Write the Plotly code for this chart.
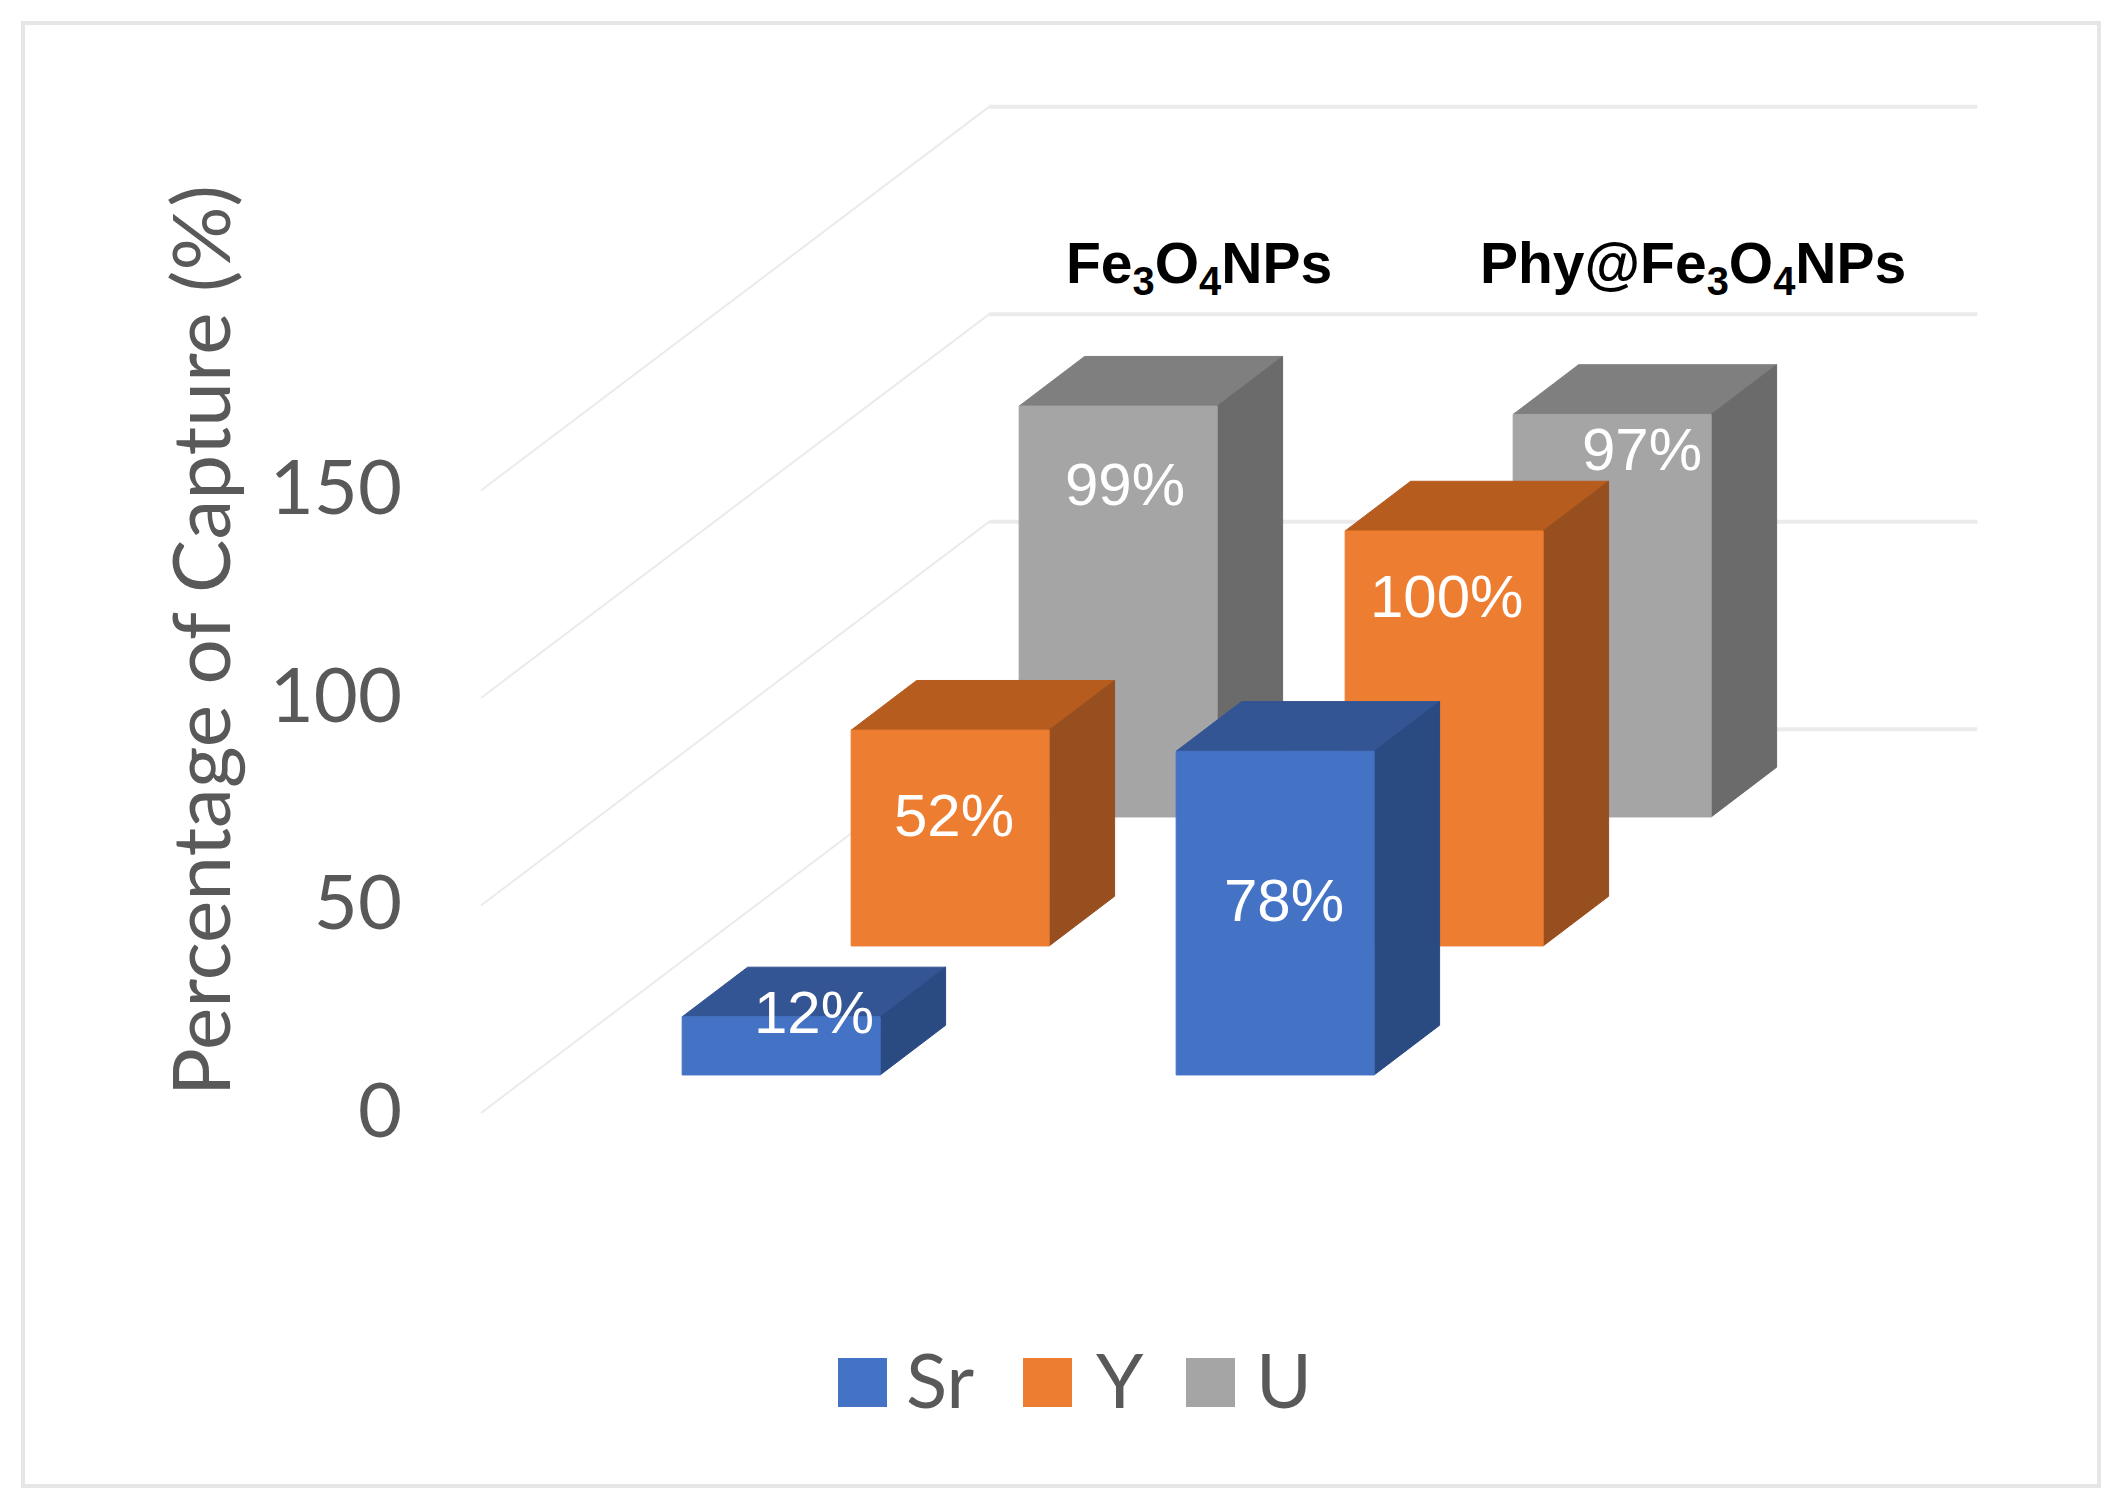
import plotly.graph_objects as go

#-------------------------------------------------------------------------------
#Values
categories = ["Fe<sub>3</sub>O<sub>4</sub>NPs", "Phy@Fe<sub>3</sub>O<sub>4</sub>NPs"]
series_names = ["Sr", "Y", "U"]
sr_values = [14, 78]
y_values = [52, 100]
u_values = [99, 97]
sr_labels = ["12%", "78%"]
y_labels = ["52%", "100%"]
u_labels = ["99%", "97%"]
tick_values = [0, 50, 100, 150]
axis_title = "Percentage of Capture (%)"

#-------------------------------------------------------------------------------
#Oblique projection: x axis is in category widths, y axis in percent
PAGE = 8         # the browser's default body margin
W, H = 2117 - PAGE, 1506 - PAGE
CAT_PX = 494
PCT_PX = 4.15
X0_PX = 728 - PAGE      # figure x of category 0 centre on the front plane
Y0_PX = 1113 - PAGE     # figure y of value 0 on the front plane
DEPTH_X = 170 / CAT_PX
DEPTH_Y = 129 / PCT_PX
WALL_DEPTH = 2.99
WALL_DROP = 0.45
BAR_W = 198 / CAT_PX
BAR_D = 0.385

def px(x):
    return (x - PAGE) / W

def py(y):
    return 1 - (y - PAGE) / H

def proj(x, depth, v):
    return x + depth * DEPTH_X, v + depth * DEPTH_Y

def poly(fig, pts, color):
    xs = [p[0] for p in pts] + [pts[0][0]]
    ys = [p[1] for p in pts] + [pts[0][1]]
    fig.add_trace(go.Scatter(x=xs, y=ys, mode="lines", fill="toself", fillcolor=color,
                             line=dict(color=color, width=1), hoverinfo="skip", showlegend=False))

def bar(fig, cat, depth, value, colors):
    x0, x1 = cat - BAR_W / 2, cat + BAR_W / 2
    d1 = depth + BAR_D
    front = [proj(x0, depth, 0), proj(x1, depth, 0), proj(x1, depth, value), proj(x0, depth, value)]
    top = [proj(x0, depth, value), proj(x1, depth, value), proj(x1, d1, value), proj(x0, d1, value)]
    side = [proj(x1, depth, 0), proj(x1, d1, 0), proj(x1, d1, value), proj(x1, depth, value)]
    poly(fig, top, colors[1])
    poly(fig, side, colors[2])
    poly(fig, front, colors[0])

fig = go.Figure()

#-------------------------------------------------------------------------------
#Floor and wall gridlines
for v in tick_values:
    a = proj(-0.5, 0, v)
    b = proj(-0.5, WALL_DEPTH, v - WALL_DROP)
    c = proj(1.5, WALL_DEPTH, v - WALL_DROP)
    fig.add_trace(go.Scatter(x=[a[0], b[0]], y=[a[1], b[1]], mode="lines", hoverinfo="skip",
                             line=dict(color="#EBEBEB", width=2), showlegend=False))
    fig.add_trace(go.Scatter(x=[b[0], c[0]], y=[b[1], c[1]], mode="lines", hoverinfo="skip",
                             line=dict(color="#EBEBEB", width=4), showlegend=False))

#-------------------------------------------------------------------------------
#Bars, back row first. (front, top, side) shades, row nudge, label offsets
series = [
    (u_values, u_labels, 2.295, ("#A5A5A5", "#7F7F7F", "#6B6B6B"), 0, [(7, 78), (30, 35)]),
    (y_values, y_labels, 1.295, ("#ED7D31", "#B55C1E", "#974F1F"), 2, [(6, 85), (4, 66)]),
    (sr_values, sr_labels, 0.295, ("#4472C4", "#335593", "#2A4A82"), 3, [(36, -4), (12, 149)]),
]
annots = []
for values, labels, depth, colors, nudge, offsets in series:
    for i, v in enumerate(values):
        bar(fig, i + nudge / CAT_PX, depth, v, colors)
        x, y = proj(i, depth, v)
        annots.append(dict(x=x, y=y, xref="x", yref="y", text=labels[i], showarrow=False,
                           xanchor="center", yanchor="middle",
                           xshift=offsets[i][0], yshift=-offsets[i][1],
                           font=dict(family="Liberation Sans", size=60, color="#FFFFFF")))

#-------------------------------------------------------------------------------
#Category names sit on the back wall
for i, name in enumerate(categories):
    x, _ = proj(i, WALL_DEPTH, 0)
    annots.append(dict(x=x, y=py(267), xref="x", yref="paper", text="<b>" + name + "</b>",
                       showarrow=False, xanchor="center", yanchor="middle", xshift=-37,
                       font=dict(family="Liberation Sans", size=57, color="#000000")))

annots.append(dict(x=px(199), y=py(641), xref="paper", yref="paper", text=axis_title, textangle=-90,
                   showarrow=False, xanchor="center", yanchor="middle",
                   font=dict(family="Lato", size=80, color="#595959")))

#-------------------------------------------------------------------------------
#Legend drawn by hand, the built in one caps marker size
shapes = [dict(type="rect", xref="paper", yref="paper", x0=px(23), x1=px(2099), y0=py(1486), y1=py(23),
               line=dict(color="#E6E6E6", width=4), fillcolor="rgba(0,0,0,0)", layer="below")]
legend_left = [838, 1023, 1186]
legend_text = [904, 1094, 1254]
legend_colors = ["#4472C4", "#ED7D31", "#A5A5A5"]
for name, left, tx, color in zip(series_names, legend_left, legend_text, legend_colors):
    shapes.append(dict(type="rect", xref="paper", yref="paper", x0=px(left), x1=px(left + 49),
                       y0=py(1407), y1=py(1358), fillcolor=color, line=dict(width=0)))
    annots.append(dict(x=px(tx), y=py(1378), xref="paper", yref="paper", text=name, showarrow=False,
                       xanchor="left", yanchor="middle", font=dict(family="Lato", size=76, color="#595959")))

#-------------------------------------------------------------------------------
fig.update_layout(
    width=W, height=H, autosize=False,
    margin=dict(l=0, r=0, t=0, b=0),
    paper_bgcolor="white", plot_bgcolor="white",
    showlegend=False,
    xaxis=dict(visible=False, domain=[0, 1],
               range=[-X0_PX / CAT_PX, (W - X0_PX) / CAT_PX]),
    yaxis=dict(range=[(Y0_PX - H) / PCT_PX, Y0_PX / PCT_PX], domain=[0, 1],
               anchor="free", position=px(402), side="left",
               tickmode="array", tickvals=tick_values, ticklabelshift=-3,
               showgrid=False, zeroline=False, showline=False, ticks="",
               tickfont=dict(family="Lato", size=76, color="#595959")),
    annotations=annots,
    shapes=shapes,
)

fig.write_html("out.html")
